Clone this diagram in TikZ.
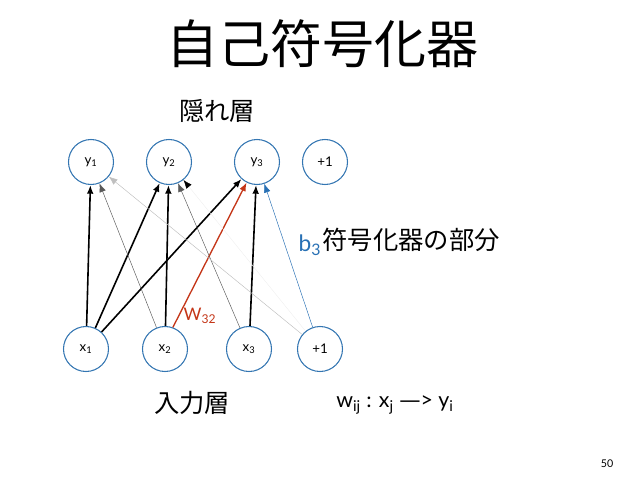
\documentclass[tikz,border=0pt]{standalone}
\usepackage{fontspec}
\setmainfont{Lato}
\newfontfamily\jp{Noto Sans CJK JP}
\newfontfamily\dv{DejaVu Sans}
\usepackage{xcolor}
\usepackage{tikz}
\usetikzlibrary{arrows.meta}

\definecolor{ringblue}{RGB}{52,118,178}
\definecolor{wred}{RGB}{196,54,24}
\definecolor{bblue}{RGB}{40,112,180}

\tikzset{
  unit/.style={circle, draw=ringblue, line width=0.8pt, fill=white, minimum size=33.75pt, inner sep=0pt, font=\fontsize{10}{11}\selectfont},
  wthick/.style={-{Latex[length=6.5pt,width=5pt]}, line width=1.2pt},
  wthin/.style={-{Latex[length=6.5pt,width=5pt]}, black!65, line width=0.35pt},
  jplabel/.style={font=\jp\fontsize{19}{21}\selectfont}
}

\begin{document}
\begin{tikzpicture}[x=0.75pt, y=-0.75pt]
\useasboundingbox (0,0) rectangle (638,479);
% title
\node[font=\jp\fontsize{39}{41}\selectfont] (title) at (322,44) {自己符号化器};
\node[jplabel] (hlayer) at (217,111) {隠れ層};
\node[jplabel] (ilayer) at (192,403) {入力層};
\node[jplabel] (enc) at (411,240) {符号化器の部分};
% hidden layer
\node[unit] (y1) at (91,162) {y\textsubscript{1}};
\node[unit] (y2) at (169,162) {y\textsubscript{2}};
\node[unit] (y3) at (257,162) {y\textsubscript{3}};
\node[unit] (hb) at (325,162) {+1};
% input layer
\node[unit] (x1) at (86,349) {x\textsubscript{1}};
\node[unit] (x2) at (165,349) {x\textsubscript{2}};
\node[unit] (x3) at (249,349) {x\textsubscript{3}};
\node[unit] (xb) at (320,349) {+1};
% weights
\draw[wthick] (x1) -- (y1);
\draw[wthick] (x1) -- (y2);
\draw[wthick] (x1) -- (y3);
\draw[wthin] (x2) -- (y1);
\draw[wthick] (x2) -- (y2);
\draw[wthick, wred, line width=1pt] (x2.70) -- (y3);
\draw[wthin] (x3) -- (y2);
\draw[wthick] (x3) -- (y3);
\draw[wthin, black!25] (xb) -- (y1);
\draw[-{Latex[length=6.5pt,width=5pt,color=black]}, black!6, line width=0.35pt] (xb) -- (y2);
\draw[wthin, bblue] (xb) -- (y3);
\node[wred, font=\fontsize{13}{14}\selectfont] (w32) at (200,316) {W\textsubscript{32}};
\node[bblue, font=\fontsize{17}{19}\selectfont, inner sep=0pt] (b3) at (310,245) {b\textsubscript{3}};
% notation
\node[font=\fontsize{16}{18}\selectfont] (rule) at (395,405) {w\textsubscript{ij} : x\textsubscript{j} {\dv —}> y\textsubscript{i}};
\node[font=\fontsize{8}{9}\selectfont] (page) at (607,464) {50};
\end{tikzpicture}
\end{document}
